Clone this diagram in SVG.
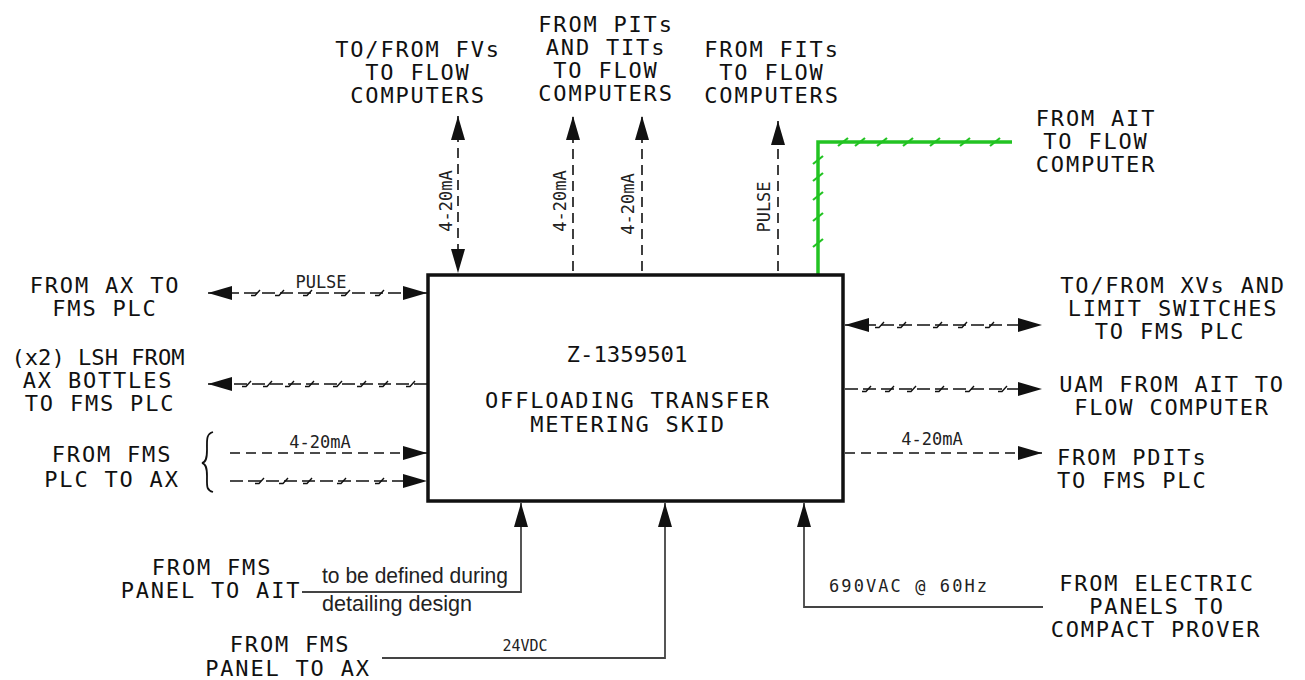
<svg xmlns="http://www.w3.org/2000/svg" xmlns:xlink="http://www.w3.org/1999/xlink" width="1305" height="680" viewBox="0 0 1305 680">
<style>
.lbl{font-family:"DejaVu Sans Mono","Liberation Mono",monospace;font-size:22px;letter-spacing:1.8px;fill:#111;text-anchor:middle}
.sm{font-family:"DejaVu Sans Mono","Liberation Mono",monospace;font-size:17px;fill:#222;text-anchor:middle}
.note{font-family:"Liberation Sans",Arial,sans-serif;font-size:22px;fill:#222}
.dash{stroke:#111;stroke-width:1.6;fill:none;stroke-dasharray:10 6}
.sig{stroke:#111;stroke-width:1.6;fill:none;stroke-dasharray:13 5}
.tk{stroke:#111;stroke-width:1.4;fill:none}
.pwr{stroke:#444;stroke-width:1.8;fill:none}
.grn{stroke:#22c322;stroke-width:3.5;fill:none;stroke-linejoin:miter}
.gtk{stroke:#22c322;stroke-width:2.2;fill:none}
.box{fill:#fff;stroke:#111;stroke-width:3.5}
</style>
<defs>
<marker id="ah" viewBox="-26 -8 27 16" refX="0" refY="0" markerWidth="27" markerHeight="16" markerUnits="userSpaceOnUse" orient="auto-start-reverse">
<path d="M0,0 L-24,-7 L-24,7 Z" fill="#111"/>
</marker>
<path id="t" d="M-5,2.5 H-1 L4,-3"/>
<path id="g" d="M-5,4 L5,-4"/>
</defs>

<g id="connectors">
<!-- top -->
<path class="dash" d="M458,116 V273" marker-start="url(#ah)" marker-end="url(#ah)"/>
<path class="dash" d="M573,271 V116" marker-end="url(#ah)"/>
<path class="dash" d="M642,271 V116" marker-end="url(#ah)"/>
<path class="dash" d="M778,271 V121" marker-end="url(#ah)"/>
<path class="grn" d="M818,275 V142 H1012"/>
<g class="gtk">
<use xlink:href="#g" x="818" y="160"/><use xlink:href="#g" x="818" y="177"/><use xlink:href="#g" x="818" y="196"/><use xlink:href="#g" x="818" y="217"/><use xlink:href="#g" x="818" y="243"/>
<use xlink:href="#g" x="843" y="142"/><use xlink:href="#g" x="860" y="142"/><use xlink:href="#g" x="882" y="142"/><use xlink:href="#g" x="908" y="142"/><use xlink:href="#g" x="935" y="142"/><use xlink:href="#g" x="965" y="142"/><use xlink:href="#g" x="995" y="142"/>
</g>
<!-- left -->
<path class="sig" d="M208,293 H427" marker-start="url(#ah)" marker-end="url(#ah)"/>
<path class="sig" d="M427,384 H208" marker-end="url(#ah)"/>
<path class="dash" d="M230,453 H427" marker-end="url(#ah)"/>
<path class="sig" d="M230,481 H427" marker-end="url(#ah)"/>
<g class="tk">
<use xlink:href="#t" x="256" y="293"/><use xlink:href="#t" x="280" y="293"/><use xlink:href="#t" x="308" y="293"/><use xlink:href="#t" x="346" y="293"/><use xlink:href="#t" x="380" y="293"/>
<use xlink:href="#t" x="247" y="384"/><use xlink:href="#t" x="268" y="384"/><use xlink:href="#t" x="290" y="384"/><use xlink:href="#t" x="310" y="384"/><use xlink:href="#t" x="338" y="384"/><use xlink:href="#t" x="362" y="384"/><use xlink:href="#t" x="384" y="384"/><use xlink:href="#t" x="411" y="384"/>
<use xlink:href="#t" x="260" y="481"/><use xlink:href="#t" x="284" y="481"/><use xlink:href="#t" x="308" y="481"/><use xlink:href="#t" x="342" y="481"/><use xlink:href="#t" x="380" y="481"/>
</g>
<path d="M213,432 C206,434 207,440 207,450 C207,458 206,462 202,463 C206,464 207,468 207,476 C207,486 206,490 213,492" stroke="#111" stroke-width="1.8" fill="none"/>
<!-- right -->
<path class="sig" d="M845,325 H1042" marker-start="url(#ah)" marker-end="url(#ah)"/>
<path class="sig" d="M845,389 H1042" marker-end="url(#ah)"/>
<path class="dash" d="M845,453 H1042" marker-end="url(#ah)"/>
<g class="tk">
<use xlink:href="#t" x="880" y="325"/><use xlink:href="#t" x="902" y="325"/><use xlink:href="#t" x="938" y="325"/><use xlink:href="#t" x="963" y="325"/><use xlink:href="#t" x="990" y="325"/>
<use xlink:href="#t" x="867" y="389"/><use xlink:href="#t" x="890" y="389"/><use xlink:href="#t" x="912" y="389"/><use xlink:href="#t" x="940" y="389"/><use xlink:href="#t" x="970" y="389"/><use xlink:href="#t" x="1003" y="389"/>
</g>
<!-- bottom -->
<path class="pwr" d="M302,592 H521 V503" marker-end="url(#ah)"/>
<path class="pwr" d="M382,658 H665 V503" marker-end="url(#ah)"/>
<path class="pwr" d="M1043,607 H804 V503" marker-end="url(#ah)"/>
<!-- connector labels -->
<text class="sm" transform="translate(452,201) rotate(-90)">4-20mA</text>
<text class="sm" transform="translate(566,201) rotate(-90)">4-20mA</text>
<text class="sm" transform="translate(634,204) rotate(-90)">4-20mA</text>
<text class="sm" transform="translate(770,207) rotate(-90)">PULSE</text>
<text class="sm" x="321" y="288">PULSE</text>
<text class="sm" x="320" y="448">4-20mA</text>
<text class="sm" x="932" y="445">4-20mA</text>
<text class="note" x="322" y="583" textLength="186" lengthAdjust="spacingAndGlyphs">to be defined during</text>
<text class="note" x="322" y="611" textLength="150" lengthAdjust="spacingAndGlyphs">detailing design</text>
<text class="sm" x="525" y="651" style="font-size:15px">24VDC</text>
<text class="sm" x="908" y="592" textLength="158" lengthAdjust="spacing">690VAC @ 60Hz</text>
</g>

<g id="skid">
<rect class="box" x="428" y="275" width="415" height="226"/>
<text class="lbl" x="627" y="362" textLength="121" lengthAdjust="spacingAndGlyphs" style="letter-spacing:0">Z-1359501</text>
<text class="lbl" x="628" y="408">OFFLOADING TRANSFER</text>
<text class="lbl" x="628" y="432">METERING SKID</text>
</g>

<g id="fvs"><text class="lbl"><tspan x="418" y="57">TO/FROM FVs</tspan><tspan x="418" y="80">TO FLOW</tspan><tspan x="418" y="103">COMPUTERS</tspan></text></g>
<g id="pits"><text class="lbl"><tspan x="606" y="32">FROM PITs</tspan><tspan x="606" y="55">AND TITs</tspan><tspan x="606" y="78">TO FLOW</tspan><tspan x="606" y="101">COMPUTERS</tspan></text></g>
<g id="fits"><text class="lbl"><tspan x="772" y="57">FROM FITs</tspan><tspan x="772" y="80">TO FLOW</tspan><tspan x="772" y="103">COMPUTERS</tspan></text></g>
<g id="ait"><text class="lbl"><tspan x="1096" y="126">FROM AIT</tspan><tspan x="1096" y="149">TO FLOW</tspan><tspan x="1096" y="172">COMPUTER</tspan></text></g>

<g id="ax"><text class="lbl"><tspan x="105" y="293">FROM AX TO</tspan><tspan x="105" y="316">FMS PLC</tspan></text></g>
<g id="lsh"><text class="lbl"><tspan x="98" y="365" textLength="173" lengthAdjust="spacingAndGlyphs" style="letter-spacing:0">(x2) LSH FROM</tspan><tspan x="98" y="388">AX BOTTLES</tspan><tspan x="100" y="411">TO FMS PLC</tspan></text></g>
<g id="fmsplc"><text class="lbl"><tspan x="112" y="462">FROM FMS</tspan><tspan x="112" y="487">PLC TO AX</tspan></text></g>

<g id="xvs"><text class="lbl"><tspan x="1173" y="293">TO/FROM XVs AND</tspan><tspan x="1173" y="316">LIMIT SWITCHES</tspan><tspan x="1170" y="339">TO FMS PLC</tspan></text></g>
<g id="uam"><text class="lbl"><tspan x="1172" y="392">UAM FROM AIT TO</tspan><tspan x="1172" y="415">FLOW COMPUTER</tspan></text></g>
<g id="pdits"><text class="lbl" style="text-anchor:start"><tspan x="1057" y="465">FROM PDITs</tspan><tspan x="1057" y="488">TO FMS PLC</tspan></text></g>

<g id="panel-ait"><text class="lbl"><tspan x="212" y="575">FROM FMS</tspan><tspan x="211" y="598">PANEL TO AIT</tspan></text></g>
<g id="panel-ax"><text class="lbl"><tspan x="290" y="652">FROM FMS</tspan><tspan x="288" y="676">PANEL TO AX</tspan></text></g>
<g id="electric"><text class="lbl"><tspan x="1157" y="591">FROM ELECTRIC</tspan><tspan x="1157" y="614">PANELS TO</tspan><tspan x="1156" y="637">COMPACT PROVER</tspan></text></g>
</svg>
